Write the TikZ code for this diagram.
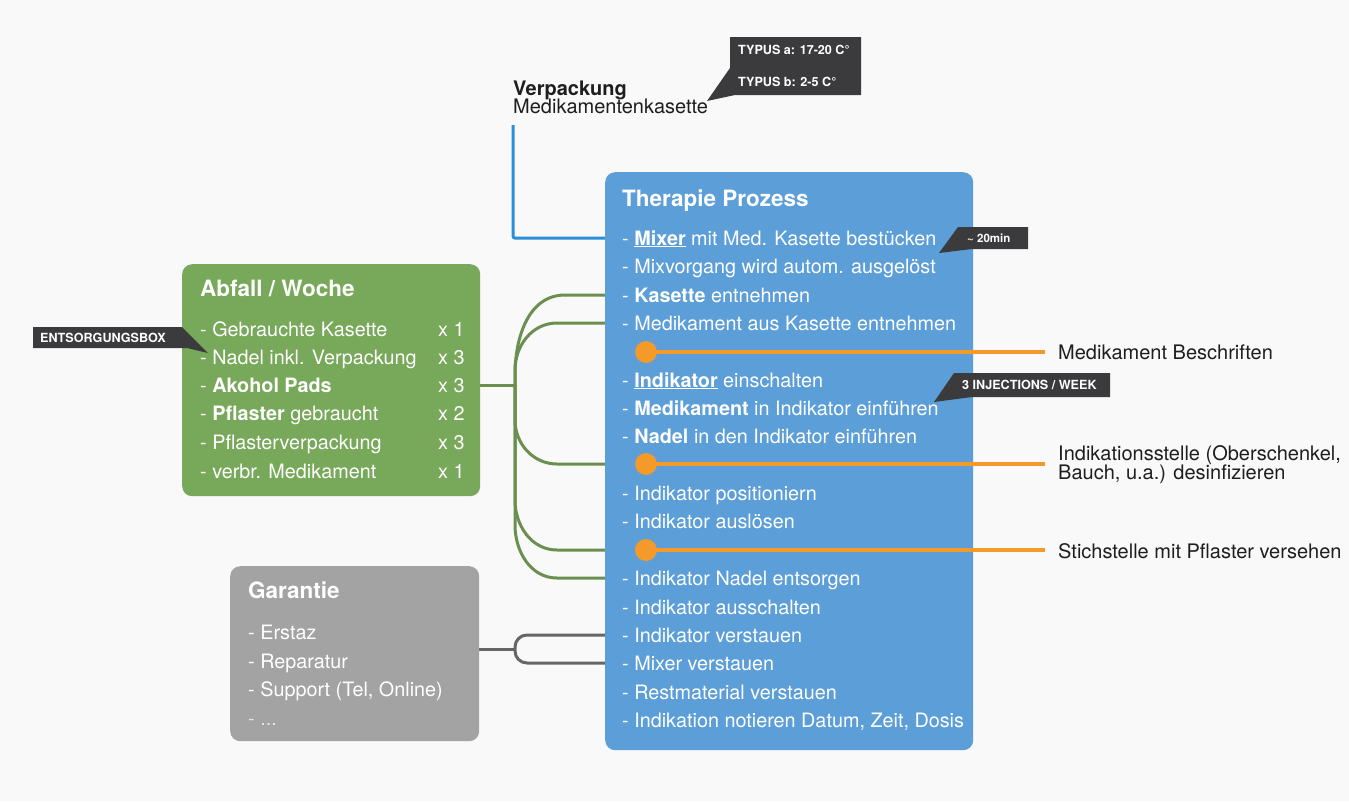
\documentclass[tikz,border=0pt]{standalone}
\usepackage{fontspec}
\setmainfont{TeX Gyre Heros}
\definecolor{bgc}{HTML}{F9F9F9}
\definecolor{bluec}{HTML}{5C9ED8}
\definecolor{greenc}{HTML}{78A85A}
\definecolor{grayc}{HTML}{A3A3A3}
\definecolor{glinec}{HTML}{6B8F50}
\definecolor{graylinec}{HTML}{666666}
\definecolor{orangec}{HTML}{F39A2B}
\definecolor{blinec}{HTML}{2A8FD8}
\definecolor{tagc}{HTML}{3B3B3D}
\definecolor{txtc}{HTML}{1E1E1E}
\begin{document}
\begin{tikzpicture}[x=1pt,y=-1pt,
  box/.style={rectangle, rounded corners=10pt, anchor=north west, inner sep=0pt},
  itm/.style={anchor=base west, inner sep=0pt, text=white, font=\fontsize{19.8}{21}\selectfont},
  ttl/.style={anchor=base west, inner sep=0pt, text=white, font=\fontsize{22.5}{24}\selectfont\bfseries},
  lbl/.style={anchor=base west, inner sep=0pt, text=txtc, font=\fontsize{20}{20}\selectfont},
  tagtxt/.style={anchor=west, inner sep=0pt, text=white, font=\fontsize{12.6}{13}\selectfont\bfseries},
  tagshape/.style={fill=tagc},
  gline/.style={draw=glinec, line width=3pt},
  grline/.style={draw=graylinec, line width=3pt},
  oline/.style={draw=orangec, line width=4pt},
  bline/.style={draw=blinec, line width=3pt},
  odot/.style={circle, fill=orangec, minimum size=22pt, inner sep=0pt}
]
\useasboundingbox (0,0) rectangle (1349,801);
\fill[bgc] (0,0) rectangle (1349,801);

% ---------- connectors (behind boxes) ----------
\coordinate (bstart) at (513,125);
\coordinate (m1) at (615,238);
\draw[bline, rounded corners=2pt] (bstart) -- (513,238) -- (m1);

\coordinate (gj) at (515,385);
\coordinate (k3) at (615,295);
\coordinate (k4) at (615,323);
\coordinate (k5) at (615,464);
\coordinate (k6) at (615,550);
\coordinate (k7) at (615,578);
\draw[gline] (480,385) -- (gj);
\draw[gline] (gj) -- (515,375) to[out=90,in=180] (565,295) -- (k3);
\draw[gline] (gj) -- (515,370) to[out=90,in=180] (557,323) -- (k4);
\draw[gline] (gj) -- (515,420) to[out=-90,in=180] (557,464) -- (k5);
\draw[gline] (gj) -- (515,500) to[out=-90,in=180] (557,550) -- (k6);
\draw[gline] (gj) -- (515,525) to[out=-90,in=180] (557,578) -- (k7);

\coordinate (q1) at (615,635);
\coordinate (q2) at (615,663);
\coordinate (gfork) at (515,649);
\draw[grline] (479,649) -- (gfork);
\draw[grline, rounded corners=12pt] (q1) -- (515,635) -- (515,663) -- (q2);

% ---------- boxes ----------
\node[box, fill=bluec, minimum width=368pt, minimum height=578pt] (therapy) at (605,172) {};
\node[box, fill=greenc, minimum width=298pt, minimum height=232pt] (abfall) at (182,264) {};
\node[box, fill=grayc, minimum width=249pt, minimum height=175pt] (garantie) at (230,566) {};

% ---------- Therapie Prozess ----------
\node[ttl] (tt) at (622,206) {Therapie Prozess};
\node[itm] (t1) at (622,245) {- \underline{\textbf{Mixer}} mit Med. Kasette bestücken};
\node[itm] (t2) at (622,273) {- Mixvorgang wird autom. ausgelöst};
\node[itm] (t3) at (622,302) {- \textbf{Kasette} entnehmen};
\node[itm] (t4) at (622,330) {- Medikament aus Kasette entnehmen};
\node[itm] (t5) at (622,387) {- \underline{\textbf{Indikator}} einschalten};
\node[itm] (t6) at (622,415) {- \textbf{Medikament} in Indikator einführen};
\node[itm] (t7) at (622,443) {- \textbf{Nadel} in den Indikator einführen};
\node[itm] (t8) at (622,500) {- Indikator positioniern};
\node[itm] (t9) at (622,528) {- Indikator auslösen};
\node[itm] (t10) at (622,585) {- Indikator Nadel entsorgen};
\node[itm] (t11) at (622,614) {- Indikator ausschalten};
\node[itm] (t12) at (622,642) {- Indikator verstauen};
\node[itm] (t13) at (622,670) {- Mixer verstauen};
\node[itm] (t14) at (622,699) {- Restmaterial verstauen};
\node[itm] (t15) at (622,727) {- Indikation notieren Datum, Zeit, Dosis};

% ---------- orange side tasks ----------
\coordinate (e1) at (1045,352);
\coordinate (e2) at (1045,464);
\coordinate (e3) at (1045,550);
\draw[oline] (646,352) -- (e1);
\draw[oline] (646,464) -- (e2);
\draw[oline] (646,550) -- (e3);
\node[odot] (d1) at (646,352) {};
\node[odot] (d2) at (646,464) {};
\node[odot] (d3) at (646,550) {};
\node[lbl] (r1) at (1058,359) {Medikament Beschriften};
\node[lbl] (r2a) at (1058,460) {Indikationsstelle (Oberschenkel,};
\node[lbl] (r2b) at (1058,479) {Bauch, u.a.) desinfizieren};
\node[lbl] (r3) at (1058,558) {Stichstelle mit Pflaster versehen};

% ---------- Abfall ----------
\node[ttl] (at) at (200,296) {Abfall / Woche};
\node[itm] (a1) at (200,336) {- Gebrauchte Kasette};
\node[itm] (a2) at (200,364) {- Nadel inkl. Verpackung};
\node[itm] (a3) at (200,392) {- \textbf{Akohol Pads}};
\node[itm] (a4) at (200,420) {- \textbf{Pflaster} gebraucht};
\node[itm] (a5) at (200,449) {- Pflasterverpackung};
\node[itm] (a6) at (200,478) {- verbr. Medikament};
\node[itm] (n1) at (438,336) {x 1};
\node[itm] (n2) at (438,364) {x 3};
\node[itm] (n3) at (438,392) {x 3};
\node[itm] (n4) at (438,420) {x 2};
\node[itm] (n5) at (438,449) {x 3};
\node[itm] (n6) at (438,478) {x 1};

% ---------- Garantie ----------
\node[ttl] (gt) at (248,598) {Garantie};
\node[itm] (g1) at (248,639) {- Erstaz};
\node[itm] (g2) at (248,668) {- Reparatur};
\node[itm] (g3) at (248,696) {- Support (Tel, Online)};
\node[itm, text=white!70!grayc] (g4) at (248,725) {- ...};

% ---------- Verpackung ----------
\node[lbl, font=\fontsize{20}{20}\selectfont\bfseries] (vp) at (513,95) {Verpackung};
\node[lbl] (vm) at (513,113) {Medikamentenkasette};

% ---------- tags ----------
\fill[tagshape] (730,37) -- (861,37) -- (861,95) -- (735,95) -- (707,101) -- (730,68) -- cycle;
\node[tagtxt] (ta) at (738,50) {TYPUS a: 17-20 C°};
\node[tagtxt] (tb) at (738,82) {TYPUS b: 2-5 C°};

\fill[tagshape] (958,227) -- (1028,227) -- (1028,249) -- (972,249) -- (939,253) -- cycle;
\node[tagtxt, font=\fontsize{11.5}{12}\selectfont\bfseries] (tm) at (967,238) {\textasciitilde{} 20min};

\fill[tagshape] (954,373) -- (1110,373) -- (1110,397) -- (972,397) -- (934,402) -- cycle;
\node[tagtxt] (ti) at (962,385) {3 INJECTIONS / WEEK};

\fill[tagshape] (33,327) -- (182,327) -- (208,353) -- (187,348) -- (33,348) -- cycle;
\node[tagtxt] (te) at (40,337.5) {ENTSORGUNGSBOX};
\end{tikzpicture}
\end{document}
